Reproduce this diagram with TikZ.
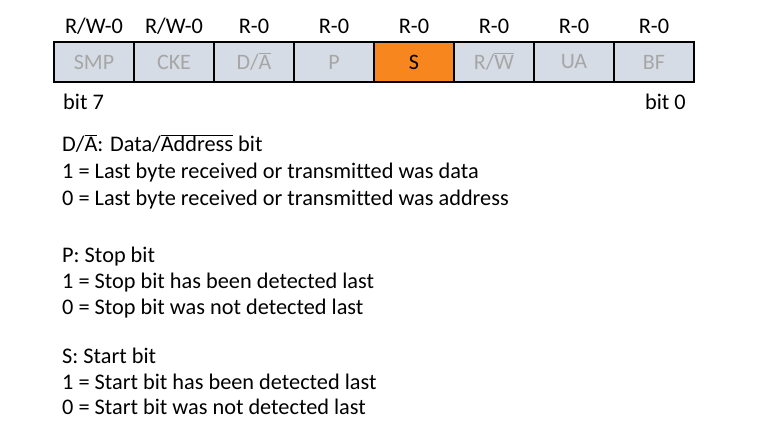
\documentclass[tikz,border=0pt]{standalone}
\usepackage{fontspec}
\setmainfont[Ligatures=NoCommon]{Carlito}
\definecolor{cellfill}{HTML}{D6DCE5}
\definecolor{celltext}{HTML}{A6A6A6}
\definecolor{hilite}{HTML}{F7861E}
% overbar drawn as a rule across the width of its argument
\newsavebox\ovbox
\newcommand\myover[1]{\sbox\ovbox{#1}\rlap{\rule[0.7em]{\wd\ovbox}{0.055em}}\usebox\ovbox}
\tikzset{
  cell/.style={draw=black, line width=1.8pt, fill=cellfill, minimum width=80pt,
    minimum height=40pt, inner sep=0pt, text=celltext, font=\fontsize{22}{26}\selectfont},
  hot/.style={cell, fill=hilite, text=black},
  acc/.style={inner sep=0pt, anchor=base, font=\fontsize{22.3}{26}\selectfont},
  desc/.style={inner sep=0pt, anchor=base west, font=\fontsize{22.3}{26}\selectfont},
}
\begin{document}
\begin{tikzpicture}[x=1pt,y=-1pt]
\useasboundingbox (0,0) rectangle (758,441);
\fill[white] (0,0) rectangle (758,441);
% register cells, bit 7 .. bit 0
\node[cell] (b7) at (94,62) {SMP};
\node[cell] (b6) at (174,62) {CKE};
\node[cell] (b5) at (254,62) {D/\myover{A}};
\node[cell] (b4) at (334,62) {P};
\node[hot]  (b3) at (414,62) {S};
\node[cell] (b2) at (494,62) {R/\myover{W}};
\node[cell] (b1) at (574,62) {UA};
\node[cell] (b0) at (654,62) {BF};
% access labels
\node[acc] (a7) at (94,34) {R/W-0};
\node[acc] (a6) at (174,34) {R/W-0};
\node[acc] (a5) at (254,34) {R-0};
\node[acc] (a4) at (334,34) {R-0};
\node[acc] (a3) at (414,34) {R-0};
\node[acc] (a2) at (494,34) {R-0};
\node[acc] (a1) at (574,34) {R-0};
\node[acc] (a0) at (654,34) {R-0};
\node[desc] (lo) at (63,110) {bit 7};
\node[desc, anchor=base east] (hi) at (686,110) {bit 0};
% bit descriptions
\node[desc] (da0) at (62,152) {D/\myover{A}: Data/\myover{Address} bit};
\node[desc] (da1) at (62,178.5) {1 = Last byte received or transmitted was data};
\node[desc] (da2) at (62,205) {0 = Last byte received or transmitted was address};
\node[desc] (p0) at (62,262.5) {P: Stop bit};
\node[desc] (p1) at (62,288.5) {1 = Stop bit has been detected last};
\node[desc] (p2) at (62,314.5) {0 = Stop bit was not detected last};
\node[desc] (s0) at (62,363) {S: Start bit};
\node[desc] (s1) at (62,389) {1 = Start bit has been detected last};
\node[desc] (s2) at (62,414.5) {0 = Start bit was not detected last};
\end{tikzpicture}
\end{document}
